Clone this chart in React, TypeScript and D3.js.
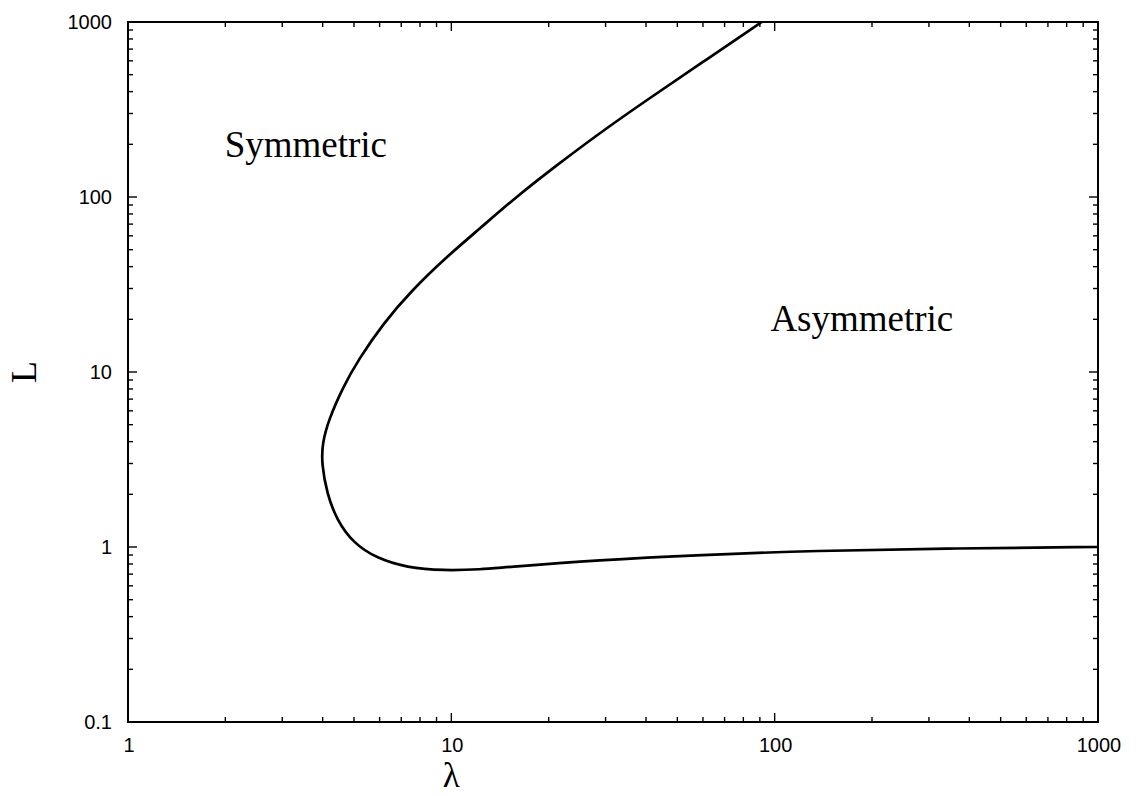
import React from "react";
import * as d3 from "d3";

const lambdaValues = [91.2, 60.2, 40.2, 28.2, 21.2, 15.9, 12.27, 9.68, 7.56, 6.16, 5.15, 4.63, 4.17, 3.99, 3.97, 4.12, 4.42, 4.98, 5.88, 7.28, 9.45, 12.56, 14.15, 28.8, 58.8, 131.8, 365.8, 1000];
const lValues = [1000, 593, 358, 226, 152, 100.5, 66.2, 45.6, 29.4, 19.0, 11.7, 8.24, 5.32, 3.9, 3.02, 2.03, 1.43, 1.05, 0.862, 0.762, 0.732, 0.746, 0.762, 0.843, 0.90, 0.953, 0.983, 1.0];

const xMajorTicks = [1, 10, 100, 1000];
const yMajorTicks = [0.1, 1, 10, 100, 1000];
const xTickLabels = ["1", "10", "100", "1000"];
const yTickLabels = ["0.1", "1", "10", "100", "1000"];

const regionLabels = ["Symmetric", "Asymmetric"];
const regionLabelPos = [[1.99, 169], [97, 17.1]]; // [lambda, L] of label left baseline

const W = 1136, H = 796;
const M = { left: 128, right: 1098, top: 22, bottom: 722 };

export default function App() {
  const x = d3.scaleLog().domain([1, 1000]).range([M.left, M.right]);
  const y = d3.scaleLog().domain([0.1, 1000]).range([M.bottom, M.top]);

  const pts: [number, number][] = lambdaValues.map((l, i) => [l, lValues[i]]);
  const line = d3
    .line<[number, number]>()
    .x((d) => x(d[0]))
    .y((d) => y(d[1]))
    .curve(d3.curveBasis);

  const isMajor = (v: number) => Math.abs(Math.log10(v) - Math.round(Math.log10(v))) < 1e-9;
  const xTicks = x.ticks();
  const yTicks = y.ticks();

  const majLen = 9, minLen = 5;
  const tickFont = "'Liberation Sans', Arial, Helvetica, sans-serif";
  const serif = "'Liberation Serif', 'Times New Roman', serif";

  return (
    <svg width={W} height={H} style={{ position: "absolute", left: 0, top: 0, display: "block", background: "#fff" }}>
      <defs>
        <clipPath id="plotclip">
          <rect x={M.left} y={M.top} width={M.right - M.left} height={M.bottom - M.top} />
        </clipPath>
      </defs>
      <rect x={0} y={0} width={W} height={H} fill="#fff" />
      <g stroke="#000" strokeWidth={1.4}>
        {xTicks.map((t, i) => {
          const len = isMajor(t) ? majLen : minLen;
          const px = x(t);
          return (
            <g key={"xt" + i}>
              <line x1={px} x2={px} y1={M.bottom} y2={M.bottom - len} />
              <line x1={px} x2={px} y1={M.top} y2={M.top + len} />
            </g>
          );
        })}
        {yTicks.map((t, i) => {
          const len = isMajor(t) ? majLen : minLen;
          const py = y(t);
          return (
            <g key={"yt" + i}>
              <line x1={M.left} x2={M.left + len} y1={py} y2={py} />
              <line x1={M.right} x2={M.right - len} y1={py} y2={py} />
            </g>
          );
        })}
      </g>
      <rect x={M.left} y={M.top} width={M.right - M.left} height={M.bottom - M.top} fill="none" stroke="#000" strokeWidth={2} />
      <g fontFamily={tickFont} fontSize={20} fill="#000">
        {xMajorTicks.map((t, i) => (
          <text key={"xl" + i} x={x(t) + 1} y={M.bottom + 30} textAnchor="middle">
            {xTickLabels[i]}
          </text>
        ))}
        {yMajorTicks.map((t, i) => (
          <text key={"yl" + i} x={M.left - 16} y={y(t) + 7} textAnchor="end">
            {yTickLabels[i]}
          </text>
        ))}
      </g>
      <path d={line(pts) || ""} fill="none" stroke="#000" strokeWidth={2.7} strokeLinejoin="round" clipPath="url(#plotclip)" />
      <g fontFamily={serif} fontSize={37} fill="#000">
        {regionLabels.map((lab, i) => (
          <text key={lab} x={x(regionLabelPos[i][0])} y={y(regionLabelPos[i][1])}>
            {lab}
          </text>
        ))}
      </g>
      <text x={x(10)} y={787} textAnchor="middle" fontFamily={serif} fontSize={35} fill="#000">
        λ
      </text>
      <text transform={`translate(36, ${y(10)}) rotate(-90)`} textAnchor="middle" fontFamily={serif} fontSize={36} fill="#000">
        L
      </text>
    </svg>
  );
}
